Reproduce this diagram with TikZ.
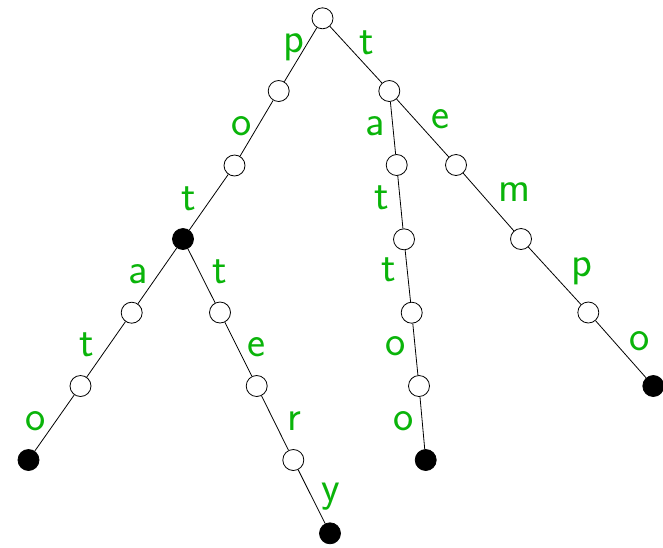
\documentclass[tikz,border=0pt]{standalone}
\usepackage{fontspec}
\definecolor{lblgreen}{RGB}{10,180,10}
\begin{document}
\begin{tikzpicture}[x=1pt,y=-1pt,
  st/.style={circle,draw,line width=0.8pt,minimum size=21pt,inner sep=0pt,fill=white},
  fin/.style={st,fill=black},
  lbl/.style={text=lblgreen,font=\fontsize{43}{47}\sffamily,anchor=base,inner sep=0pt},
  edge/.style={line width=0.8pt}]
\useasboundingbox (0,0) rectangle (663,547);
% nodes
\node[st] (r) at (322.5,18.3) {};
\node[st] (p) at (278.7,91) {};
\node[st] (po) at (234.5,165.5) {};
\node[fin] (pot) at (183,239) {};
\node[st] (pota) at (131.7,312.7) {};
\node[st] (potat) at (80.5,386) {};
\node[fin] (potato) at (28.5,460) {};
\node[st] (pott) at (220,312.5) {};
\node[st] (potte) at (256.7,386) {};
\node[st] (potter) at (293.3,460) {};
\node[fin] (pottery) at (330,533.3) {};
\node[st] (t) at (389.3,91) {};
\node[st] (ta) at (396.7,165) {};
\node[st] (tat) at (404,239.3) {};
\node[st] (tatt) at (411.7,312.7) {};
\node[st] (tatto) at (419,386) {};
\node[fin] (tattoo) at (425.7,460) {};
\node[st] (te) at (456,165) {};
\node[st] (tem) at (521,239) {};
\node[st] (temp) at (588.3,312.5) {};
\node[fin] (tempo) at (653.3,386) {};
% edges
\draw[edge] (r) -- (p) (p) -- (po) (po) -- (pot) (pot) -- (pota) (pota) -- (potat) (potat) -- (potato);
\draw[edge] (pot) -- (pott) (pott) -- (potte) (potte) -- (potter) (potter) -- (pottery);
\draw[edge] (r) -- (t) (t) -- (ta) (ta) -- (tat) (tat) -- (tatt) (tatt) -- (tatto) (tatto) -- (tattoo);
\draw[edge] (t) -- (te) (te) -- (tem) (tem) -- (temp) (temp) -- (tempo);
% labels
\node[lbl] (l1) at (294,52) {p};
\node[lbl] (l2) at (242,135) {o};
\node[lbl] (l3) at (189,210) {t};
\node[lbl] (l4) at (138.3,283.3) {a};
\node[lbl] (l5) at (86.7,356.7) {t};
\node[lbl] (l6) at (35.8,430) {o};
\node[lbl] (l7) at (219.7,283.3) {t};
\node[lbl] (l8) at (256.7,356.7) {e};
\node[lbl] (l9) at (294,430) {r};
\node[lbl] (l10) at (330.5,501) {y};
\node[lbl] (l11) at (367,54) {t};
\node[lbl] (l12) at (374.7,135) {a};
\node[lbl] (l13) at (381.7,209.3) {t};
\node[lbl] (l14) at (388.8,281.7) {t};
\node[lbl] (l15) at (396,355) {o};
\node[lbl] (l16) at (403.8,430) {o};
\node[lbl] (l17) at (440.5,128) {e};
\node[lbl] (l18) at (514.7,201.7) {m};
\node[lbl] (l19) at (581.7,276.7) {p};
\node[lbl] (l20) at (639.7,350) {o};
\end{tikzpicture}
\end{document}
